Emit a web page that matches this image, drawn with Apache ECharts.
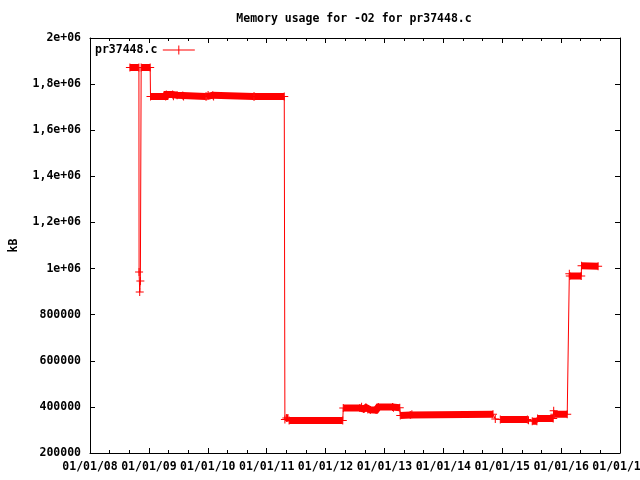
<!DOCTYPE html>
<html>
<head>
<meta charset="utf-8">
<script src="https://cdn.jsdelivr.net/npm/echarts@6/dist/echarts.min.js"></script>
<style>html,body{margin:0;padding:0;background:#fff}#c{width:640px;height:480px}</style>
</head>
<body>
<div id="c"></div>
<script>
// ---- data ----
const chartTitle = 'Memory usage for -O2 for pr37448.c';
const seriesName = 'pr37448.c';
const yAxisTitle = 'kB';
const xTickLabels = ['01/01/08','01/01/09','01/01/10','01/01/11','01/01/12','01/01/13','01/01/14','01/01/15','01/01/16','01/01/17'];
const yTickLabels = ['200000','400000','600000','800000','1e+06','1,2e+06','1,4e+06','1,6e+06','1,8e+06','2e+06'];
// measurement runs: densely sampled stretches [date, kB]; single-sample runs are isolated points
const runs = [
  [['2008-09-05',1872000],['2008-10-31',1872000]],
  [['2008-11-01',985000]],
  [['2008-11-05',898000]],
  [['2008-11-09',946000]],
  [['2008-11-14',1872000],['2009-01-09',1872000]],
  [['2009-01-11',1746000],['2009-04-15',1746000],['2009-04-19',1755000],['2009-05-28',1755000],['2009-06-02',1747000],['2009-06-25',1752000],['2009-07-30',1751000],['2009-08-04',1746000],['2009-12-19',1746000]],
  [['2009-12-25',1746000],['2010-01-03',1753000],['2010-02-01',1752000],['2010-02-06',1746000],['2010-10-12',1746000]],
  [['2010-10-18',1746000],['2011-04-20',1746000]],
  [['2011-04-24',345000]],
  [['2011-05-03',352000],['2011-05-13',352000]],
  [['2011-05-20',341000],['2012-04-17',341000]],
  [['2012-04-20',395000],['2012-08-01',395000],['2012-08-12',401000],['2012-08-25',391000],['2012-09-08',397000],['2012-09-20',389000],['2012-10-05',387000],['2012-11-10',386000],['2012-11-24',399000],['2013-02-20',399000],['2013-02-26',396000],['2013-04-06',396000]],
  [['2013-04-09',363000],['2013-06-10',365000],['2013-06-20',368000],['2014-11-05',368000]],
  [['2014-11-19',347000]],
  [['2014-12-20',345000],['2015-06-06',345000]],
  [['2015-06-13',342000]],
  [['2015-07-06',338000],['2015-08-04',338000]],
  [['2015-08-08',350000],['2015-11-13',350000]],
  [['2015-11-16',383000]],
  [['2015-11-20',368000],['2016-02-08',368000]],
  [['2016-02-21',977000]],
  [['2016-02-24',968000],['2016-05-05',968000]],
  [['2016-05-07',1012000],['2016-08-18',1010000]]
];

// ---- build ----
function toYear(s){
  const p = s.split('-').map(Number);
  const t = Date.UTC(p[0], p[1]-1, p[2]);
  const a = Date.UTC(p[0],0,1), b = Date.UTC(p[0]+1,0,1);
  return p[0] + (t-a)/(b-a);
}
const mainData = [];
const bandData = [];
runs.forEach(function(run){
  run.forEach(function(pt){
    const v = [toYear(pt[0]), pt[1]];
    mainData.push(v);
    bandData.push(v);
  });
  bandData.push(null);
});

const FONT = '"DejaVu Sans Mono", "Liberation Mono", monospace';
const txt = {fontFamily: FONT, fontSize: 11.5, fontWeight: 'bold', color: '#000'};
const plus = 'path://M0,3.5H8V4.5H0Z M3.5,0H4.5V8H3.5Z';
const legendIcon = 'path://M0,4H32V5H0Z M15.5,0H16.5V9H15.5Z';

const xBase = {
  type: 'value', min: 2008, max: 2017, interval: 1,
  axisLine: {show: true, onZero: false, lineStyle: {color: '#000', width: 1}},
  axisTick: {show: true, inside: true, length: 5, lineStyle: {color: '#000'}},
  minorTick: {show: true, splitNumber: 3, length: 3, lineStyle: {color: '#000'}},
  splitLine: {show: false}, minorSplitLine: {show: false}
};
const yBase = {
  type: 'value', min: 200000, max: 2000000, interval: 200000,
  axisLine: {show: true, onZero: false, lineStyle: {color: '#000', width: 1}},
  axisTick: {show: true, inside: true, length: 5, lineStyle: {color: '#000'}},
  splitLine: {show: false}
};

const chart = echarts.init(document.getElementById('c'), null, {renderer: 'canvas'});
chart.setOption({
  animation: false,
  backgroundColor: '#fff',
  title: {
    text: chartTitle, left: 349, top: 8, textAlign: 'center',
    textStyle: Object.assign({}, txt)
  },
  legend: {
    show: true, left: 90, top: 39, align: 'right',
    itemWidth: 33, itemHeight: 9, itemGap: 5,
    data: [{name: seriesName, icon: legendIcon}],
    textStyle: Object.assign({}, txt),
    itemStyle: {color: '#ff0000', borderWidth: 0}
  },
  grid: {left: 90, right: 20, top: 38, bottom: 27, containLabel: false, outerBoundsMode: 'none'},
  xAxis: [
    Object.assign({}, xBase, {
      position: 'bottom',
      axisLabel: {show: true, margin: 8, formatter: function(v){ return xTickLabels[Math.round(v-2008)] || ''; }, fontFamily: FONT, fontSize: 11.5, fontWeight: 'bold', color: '#000', hideOverlap: false, showMaxLabel: true, showMinLabel: true}
    }),
    Object.assign({}, xBase, {position: 'top', axisLabel: {show: false}})
  ],
  yAxis: [
    Object.assign({}, yBase, {
      position: 'left',
      name: yAxisTitle, nameLocation: 'middle', nameGap: 70, nameRotate: 90,
      nameTextStyle: Object.assign({}, txt),
      axisLabel: {show: true, margin: 9, formatter: function(v){ return yTickLabels[Math.round((v-200000)/200000)] || ''; }, fontFamily: FONT, fontSize: 11.5, fontWeight: 'bold', color: '#000'}
    }),
    Object.assign({}, yBase, {position: 'right', axisLabel: {show: false}})
  ],
  series: [
    {
      name: 'dense', type: 'line', xAxisIndex: 0, yAxisIndex: 0,
      data: bandData, connectNulls: false, showSymbol: false, symbol: 'none',
      silent: true, legendHoverLink: false,
      lineStyle: {color: '#ff0000', width: 7, cap: 'butt', join: 'miter'},
      z: 2
    },
    {
      name: seriesName, type: 'line', xAxisIndex: 0, yAxisIndex: 0,
      data: mainData, showSymbol: true, showAllSymbol: true,
      symbol: plus, symbolSize: 8,
      itemStyle: {color: '#ff0000', borderWidth: 0},
      lineStyle: {color: '#ff0000', width: 1},
      z: 3
    }
  ]
});
</script>
</body>
</html>
